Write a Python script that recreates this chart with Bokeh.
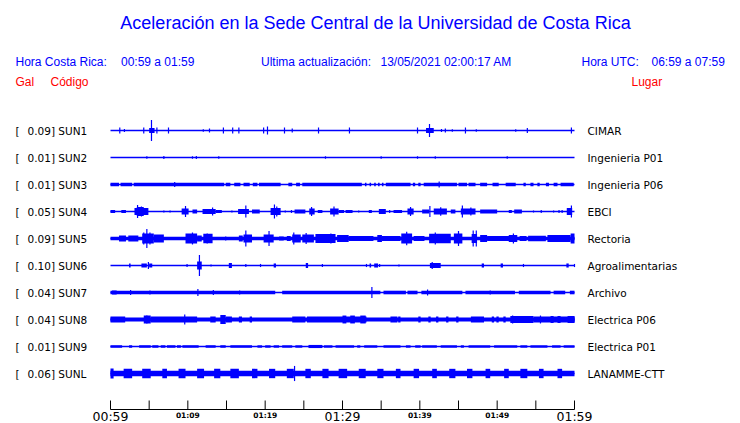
from bokeh.plotting import figure
from bokeh.models import Range1d
from bokeh.core.properties import value
from bokeh.embed import file_html
from bokeh.resources import INLINE

# ---------------- texts ----------------
TITLE = "Aceleración en la Sede Central de la Universidad de Costa Rica"
HEADER_LABELS = ["Hora Costa Rica:", "00:59 a 01:59", "Ultima actualización:",
                 "13/05/2021 02:00:17 AM", "Hora UTC:", "06:59 a 07:59"]
COLUMN_LABELS = ["Gal", "Código", "Lugar"]

CODES = ["SUN1", "SUN2", "SUN3", "SUN4", "SUN5", "SUN6", "SUN7", "SUN8", "SUN9", "SUNL"]
PEAK_GAL = ["0.09", "0.01", "0.01", "0.05", "0.09", "0.10", "0.04", "0.04", "0.01", "0.06"]
PLACES = ["CIMAR", "Ingenieria P01", "Ingenieria P06", "EBCI", "Rectoria",
          "Agroalimentarias", "Archivo", "Electrica P06", "Electrica P01", "LANAMME-CTT"]

# time axis (minutes after 00:59)
T_START, T_END = 0, 60
TICK_T = [0, 5, 10, 15, 20, 25, 30, 35, 40, 45, 50, 55, 60]
BIG_TICK_T = [0, 30, 60]
BIG_TICK_LABELS = ["00:59", "01:29", "01:59"]
SMALL_TICK_T = [10, 20, 40, 50]
SMALL_TICK_LABELS = ["01:09", "01:19", "01:39", "01:49"]

# ---------------- traces: envelope blocks (t0, t1, Gal) and spikes (t, Gal) ----------------
SUN1_BLOCKS = [(5.0, 5.7, 0.021), (40.8, 41.8, 0.021)]
SUN1_SPIKES = [(1.2, 0.025), (1.8, 0.013), (4.3, 0.025), (5.3, 0.088), (6.0, 0.025), (7.5, 0.025),
               (12.0, 0.010), (12.8, 0.017), (14.6, 0.025), (15.8, 0.025), (16.6, 0.025), (19.8, 0.025),
               (20.3, 0.033), (22.5, 0.025), (23.5, 0.017), (26.9, 0.025), (30.9, 0.025), (39.7, 0.025),
               (41.25, 0.054), (42.8, 0.013), (43.3, 0.017), (44.2, 0.010), (45.9, 0.025), (47.3, 0.010),
               (52.4, 0.010), (53.9, 0.021), (59.6, 0.025)]

SUN2_BLOCKS = []
SUN2_SPIKES = [(4.7, 0.010), (6.9, 0.013), (10.6, 0.010), (11.1, 0.013), (14.0, 0.010), (27.8, 0.010),
               (35.0, 0.010), (39.7, 0.010), (42.0, 0.010), (51.3, 0.010)]

SUN3_BLOCKS = [(0.0, 1.1, 0.015), (1.3, 2.8, 0.015), (3.0, 14.7, 0.015), (14.9, 15.5, 0.015),
               (16.0, 16.8, 0.015), (17.2, 18.0, 0.015), (18.4, 19.0, 0.015), (19.2, 22.0, 0.015),
               (23.0, 23.5, 0.015), (24.0, 24.5, 0.015), (24.8, 32.5, 0.015), (32.9, 33.1, 0.015),
               (33.5, 33.7, 0.015), (34.1, 34.3, 0.015), (34.6, 34.8, 0.015), (35.1, 35.3, 0.015),
               (35.6, 38.8, 0.015), (39.1, 39.4, 0.015), (39.8, 40.1, 0.015), (40.5, 44.8, 0.015),
               (45.0, 46.1, 0.015), (46.3, 47.2, 0.015), (47.8, 48.7, 0.015), (49.4, 50.2, 0.015),
               (51.1, 52.4, 0.015), (53.4, 53.7, 0.015), (54.3, 54.7, 0.015), (55.2, 55.5, 0.015),
               (56.3, 56.7, 0.015), (57.3, 57.8, 0.015), (58.2, 59.9, 0.015)]
SUN3_SPIKES = [(8.3, 0.021), (42.5, 0.025)]

SUN4_BLOCKS = [(0.0, 0.6, 0.013), (1.4, 2.0, 0.013), (3.1, 4.9, 0.030), (3.4, 4.3, 0.038),
               (9.2, 10.1, 0.025), (10.6, 11.2, 0.017), (11.9, 13.6, 0.021), (13.6, 14.4, 0.013),
               (16.5, 17.9, 0.021), (18.3, 19.3, 0.017), (20.7, 22.0, 0.029), (23.8, 25.2, 0.017),
               (25.7, 26.4, 0.025), (26.8, 27.4, 0.013), (28.4, 29.5, 0.025), (29.5, 30.2, 0.013),
               (30.4, 31.3, 0.013), (33.4, 33.8, 0.013), (34.7, 35.6, 0.021), (36.6, 37.7, 0.013),
               (38.4, 39.2, 0.025), (40.3, 41.2, 0.017), (41.8, 43.5, 0.025), (44.0, 44.6, 0.017),
               (45.3, 47.2, 0.025), (47.8, 50.0, 0.017), (51.5, 51.9, 0.013), (52.2, 53.2, 0.017),
               (59.0, 59.7, 0.029)]
SUN4_SPIKES = [(3.5, 0.054), (4.0, 0.042), (6.9, 0.008), (7.7, 0.008), (9.7, 0.046), (13.2, 0.033),
               (15.7, 0.008), (17.5, 0.050), (21.2, 0.058), (21.5, 0.042), (22.6, 0.008), (23.4, 0.013),
               (26.0, 0.038), (28.9, 0.042), (32.1, 0.008), (36.1, 0.013), (38.8, 0.038), (41.3, 0.046),
               (42.7, 0.036), (45.5, 0.050), (46.6, 0.033), (54.7, 0.008), (55.7, 0.013), (57.3, 0.008),
               (58.0, 0.013), (58.4, 0.013), (59.6, 0.050)]

SUN5_BLOCKS = [(0.0, 60.0, 0.014), (1.1, 2.0, 0.025), (2.3, 3.6, 0.025), (4.1, 5.6, 0.042),
               (5.6, 6.9, 0.033), (9.7, 11.2, 0.042), (11.2, 11.8, 0.025), (12.0, 13.2, 0.039),
               (16.6, 17.1, 0.025), (17.2, 18.3, 0.033), (19.8, 21.1, 0.033), (21.8, 22.4, 0.017),
               (22.8, 23.3, 0.021), (23.5, 24.6, 0.033), (24.8, 26.3, 0.033), (26.5, 29.1, 0.038),
               (29.3, 30.8, 0.029), (30.8, 34.0, 0.021), (34.5, 35.1, 0.029), (35.1, 37.5, 0.021),
               (37.6, 39.0, 0.042), (39.2, 40.6, 0.021), (41.2, 44.0, 0.039), (44.4, 45.5, 0.042),
               (46.7, 47.4, 0.038), (47.8, 48.7, 0.029), (48.7, 51.6, 0.021), (51.5, 52.6, 0.029),
               (52.9, 53.8, 0.021), (54.0, 56.3, 0.022), (56.5, 59.5, 0.029), (59.5, 60.0, 0.042)]
SUN5_SPIKES = [(4.3, 0.050), (4.7, 0.079), (5.1, 0.050), (10.6, 0.050), (12.5, 0.042), (14.9, 0.017),
               (17.5, 0.067), (20.5, 0.063), (23.7, 0.050), (25.3, 0.046), (28.5, 0.042), (38.3, 0.056),
               (42.0, 0.050), (45.0, 0.063), (46.9, 0.067), (47.3, 0.067), (52.1, 0.042)]

SUN6_BLOCKS = [(2.4, 2.6, 0.017), (4.0, 4.7, 0.017), (5.0, 5.4, 0.017), (11.2, 11.8, 0.033),
               (15.3, 15.7, 0.021), (21.1, 21.4, 0.017), (25.25, 25.55, 0.021), (33.5, 33.7, 0.017),
               (34.1, 34.6, 0.017), (41.3, 42.7, 0.021), (48.0, 48.3, 0.017), (50.45, 50.75, 0.017),
               (58.95, 59.25, 0.017)]
SUN6_SPIKES = [(4.9, 0.029), (9.9, 0.013), (11.5, 0.088), (13.0, 0.008), (17.5, 0.013), (19.4, 0.013),
               (27.4, 0.013), (33.1, 0.013), (34.8, 0.013), (37.3, 0.008), (41.6, 0.029), (53.4, 0.013),
               (60.0, 0.013)]

SUN7_BLOCKS = [(0.0, 21.3, 0.015), (22.2, 34.9, 0.015), (35.3, 38.2, 0.015), (38.4, 39.7, 0.015),
               (40.2, 45.5, 0.015), (45.9, 52.3, 0.015), (52.8, 56.9, 0.015), (57.3, 58.8, 0.015),
               (59.4, 60.0, 0.015), (0.2, 0.8, 0.017)]
SUN7_SPIKES = [(2.6, 0.021), (5.1, 0.017), (11.3, 0.029), (13.3, 0.021), (16.7, 0.017), (33.8, 0.046),
               (41.0, 0.025), (49.1, 0.017)]

SUN8_BLOCKS = [(0.0, 60.0, 0.017), (0.0, 1.9, 0.025), (4.3, 5.2, 0.033), (5.2, 11.2, 0.025),
               (12.9, 13.6, 0.025), (14.2, 14.9, 0.038), (14.9, 15.7, 0.025), (16.6, 17.0, 0.025),
               (18.0, 18.3, 0.025), (23.5, 25.2, 0.025), (25.4, 33.1, 0.025), (30.0, 30.5, 0.033),
               (31.0, 31.6, 0.033), (32.3, 33.0, 0.033), (36.2, 37.1, 0.025), (37.2, 37.5, 0.025),
               (39.8, 40.1, 0.025), (41.1, 41.4, 0.025), (42.1, 42.4, 0.025), (43.4, 43.7, 0.025),
               (44.7, 45.0, 0.025), (46.6, 48.3, 0.025), (49.3, 49.6, 0.025), (49.9, 50.2, 0.025),
               (50.8, 51.1, 0.025), (51.7, 54.7, 0.029), (54.7, 60.0, 0.025), (56.9, 57.3, 0.029),
               (57.8, 58.2, 0.029), (59.1, 60.0, 0.029)]
SUN8_SPIKES = [(4.7, 0.033), (9.6, 0.042), (14.7, 0.038), (52.0, 0.033), (55.6, 0.033)]

SUN9_BLOCKS = [(0.0, 1.5, 0.010), (2.4, 2.8, 0.010), (3.7, 5.2, 0.010), (5.4, 6.2, 0.010),
               (6.5, 7.1, 0.010), (7.3, 8.4, 0.010), (8.6, 9.1, 0.010), (9.3, 11.4, 0.010),
               (12.3, 13.6, 0.010), (14.2, 14.9, 0.010), (15.5, 18.3, 0.010), (19.0, 19.6, 0.010),
               (20.0, 20.7, 0.010), (21.1, 21.8, 0.010), (22.2, 23.5, 0.010), (23.9, 24.8, 0.010),
               (25.6, 27.4, 0.013), (27.6, 28.7, 0.010), (29.1, 31.5, 0.010), (31.9, 32.3, 0.010),
               (32.8, 34.5, 0.010), (35.3, 37.5, 0.010), (38.2, 38.8, 0.010), (39.4, 40.1, 0.010),
               (40.3, 42.2, 0.010), (42.7, 44.8, 0.010), (45.3, 45.7, 0.010), (46.3, 49.1, 0.010),
               (49.6, 52.6, 0.010), (53.0, 53.9, 0.010), (54.3, 56.5, 0.010), (57.1, 58.2, 0.010),
               (58.6, 60.0, 0.010)]
SUN9_SPIKES = []

SUNL_BLOCKS = [(0.0, 60.0, 0.022), (0.0, 0.4, 0.042), (1.7, 2.8, 0.039), (4.1, 5.2, 0.039),
               (6.7, 7.3, 0.039), (8.8, 9.7, 0.039), (11.2, 12.1, 0.039), (13.4, 14.2, 0.039),
               (15.5, 16.6, 0.039), (18.3, 19.0, 0.039), (20.5, 21.3, 0.039), (22.8, 23.7, 0.039),
               (25.2, 25.9, 0.039), (27.4, 28.2, 0.039), (29.5, 30.6, 0.039), (32.1, 33.0, 0.039),
               (34.5, 35.3, 0.039), (36.9, 37.5, 0.039), (39.2, 39.9, 0.039), (41.6, 42.2, 0.039),
               (43.8, 44.6, 0.039), (46.1, 46.8, 0.039), (48.5, 49.1, 0.039), (50.9, 51.5, 0.039),
               (53.0, 53.9, 0.039), (55.4, 56.0, 0.039), (57.8, 58.4, 0.039)]
SUNL_SPIKES = [(23.8, 0.063)]

BLOCKS = [SUN1_BLOCKS, SUN2_BLOCKS, SUN3_BLOCKS, SUN4_BLOCKS, SUN5_BLOCKS,
          SUN6_BLOCKS, SUN7_BLOCKS, SUN8_BLOCKS, SUN9_BLOCKS, SUNL_BLOCKS]
SPIKES = [SUN1_SPIKES, SUN2_SPIKES, SUN3_SPIKES, SUN4_SPIKES, SUN5_SPIKES,
          SUN6_SPIKES, SUN7_SPIKES, SUN8_SPIKES, SUN9_SPIKES, SUNL_SPIKES]

# ---------------- layout ----------------
W, H = 740, 423
X0 = 110                   # canvas x of minute 0
PXM = 464 / 60             # px per minute
Y0 = 130                   # canvas y of first trace
TRK = 27.0                 # px between traces
PX_PER_GAL = 120.0         # half-height px per Gal
AMP = PX_PER_GAL / TRK     # Gal -> track units

BLUE = "#0000ff"
RED = "#ff0000"
BLACK = "#000000"


def rx(x):
    return (x - X0) / PXM


def ry(y):
    return (y - Y0) / TRK


p = figure(width=W, height=H, x_range=Range1d(rx(0), rx(W)),
           y_range=Range1d(ry(H), ry(0)), output_backend="svg",
           toolbar_location=None, min_border=0, x_axis_type=None, y_axis_type=None,
           title=None)
p.outline_line_color = None
p.background_fill_color = "white"
p.border_fill_color = "white"

# traces
n = len(CODES)
p.segment(x0=[T_START] * n, x1=[T_END] * n, y0=list(range(n)), y1=list(range(n)),
          line_color=BLUE, line_width=1.3)
L, R, B, T = [], [], [], []
for i, blocks in enumerate(BLOCKS):
    for t0, t1, a in blocks:
        L.append(t0); R.append(t1); B.append(i - a * AMP); T.append(i + a * AMP)
p.quad(left=L, right=R, bottom=B, top=T, fill_color=BLUE, line_color=None)
SX, SY0, SY1 = [], [], []
for i, spikes in enumerate(SPIKES):
    for t, a in spikes:
        SX.append(t); SY0.append(i - a * AMP); SY1.append(i + a * AMP)
p.segment(x0=SX, x1=SX, y0=SY0, y1=SY1, line_color=BLUE, line_width=1.2)

# station labels
rows = list(range(n))
p.text(x=[rx(15)] * n, y=rows, text=["["] * n, text_font=value("DejaVu Sans"),
       text_font_size="10.5px", text_color=BLACK, text_baseline="middle")
p.text(x=[rx(27)] * n, y=rows, text=[f"{g}] {c}" for g, c in zip(PEAK_GAL, CODES)],
       text_font=value("DejaVu Sans"), text_font_size="10.5px", text_color=BLACK,
       text_baseline="middle")
p.text(x=[rx(587)] * n, y=rows, text=PLACES, text_font=value("DejaVu Sans"),
       text_font_size="10.5px", text_color=BLACK, text_baseline="middle")

# headers
p.text(x=[rx(375)], y=[ry(22)], text=[TITLE], text_font=value("Liberation Sans"),
       text_font_size="18px", text_color=BLUE, text_align="center", text_baseline="middle")
p.text(x=[rx(15), rx(120.5), rx(260.5), rx(380), rx(581), rx(651)], y=[ry(61)] * 6,
       text=HEADER_LABELS, text_font=value("Liberation Sans"), text_font_size="12px",
       text_color=BLUE, text_baseline="middle")
p.text(x=[rx(15), rx(50), rx(631)], y=[ry(81)] * 3, text=COLUMN_LABELS,
       text_font=value("Liberation Sans"), text_font_size="12px", text_color=RED,
       text_baseline="middle")

# time axis
ya = ry(409)
p.segment(x0=[T_START], x1=[T_END], y0=[ya], y1=[ya], line_color=BLACK, line_width=1)
p.segment(x0=TICK_T, x1=TICK_T, y0=[ry(400)] * len(TICK_T), y1=[ya] * len(TICK_T),
          line_color=BLACK, line_width=1)
p.text(x=BIG_TICK_T, y=[ry(416)] * 3, text=BIG_TICK_LABELS, text_font=value("DejaVu Sans"),
       text_font_size="12.5px", text_color=BLACK, text_align="center", text_baseline="middle")
p.text(x=SMALL_TICK_T, y=[ry(415)] * 4, text=SMALL_TICK_LABELS,
       text_font=value("DejaVu Sans"), text_font_size="7.5px", text_font_style="bold",
       text_color=BLACK, text_align="center", text_baseline="middle")

open("out.html", "w").write(file_html(p, INLINE))
